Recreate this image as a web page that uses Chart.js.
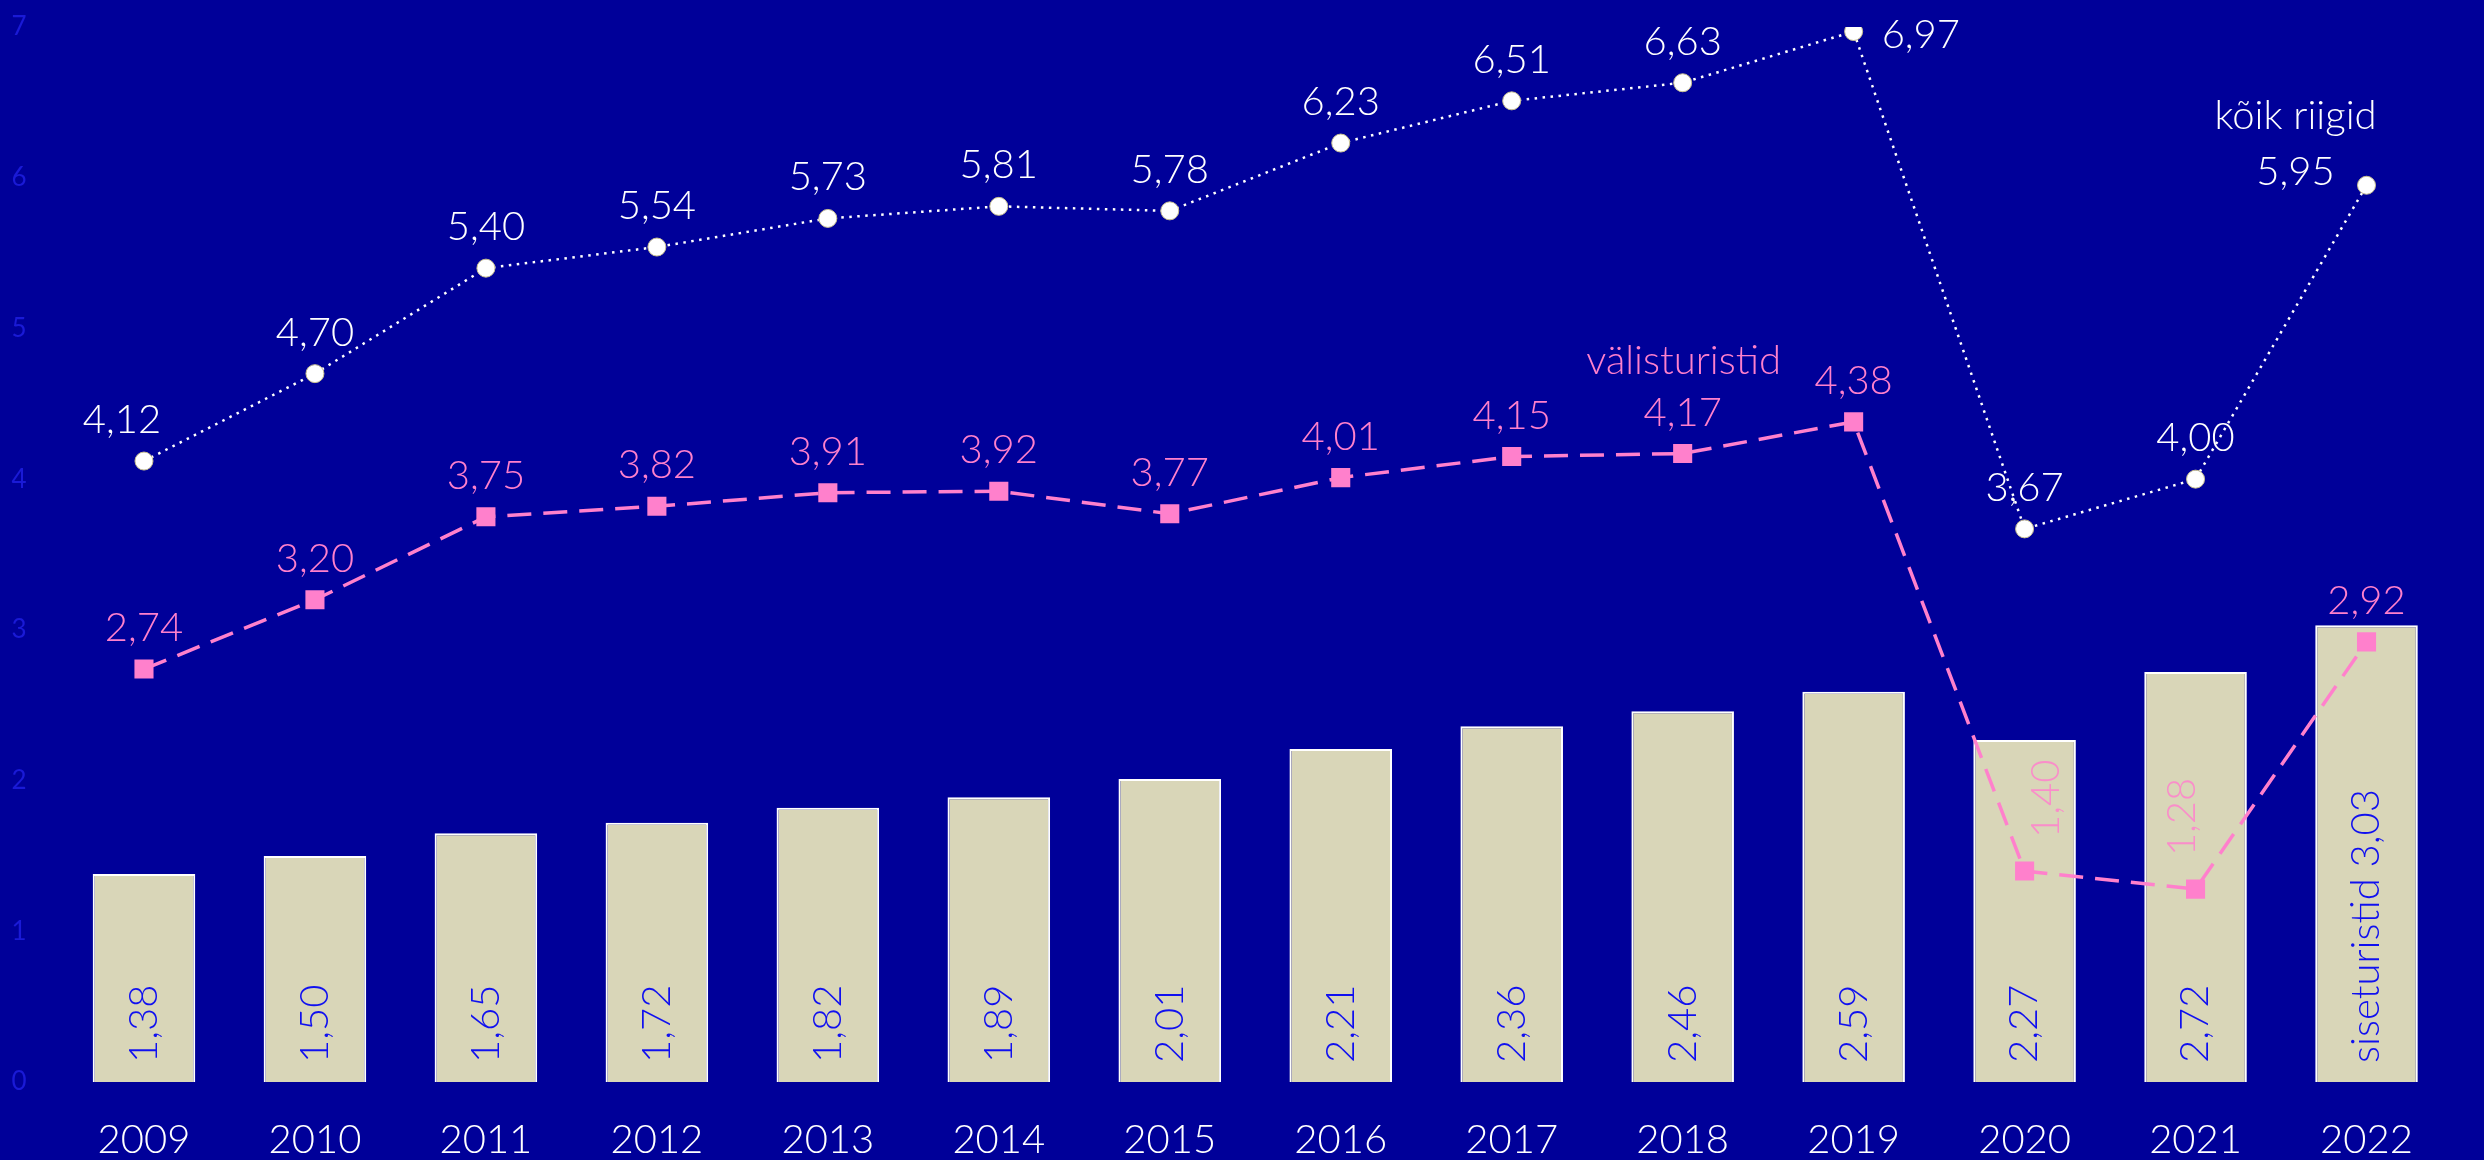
<!DOCTYPE html>
<html>
<head>
<meta charset="utf-8">
<script src="https://cdn.jsdelivr.net/npm/chart.js@4"></script>
<style>
  html, body { margin: 0; padding: 0; background: #000099; }
  #wrap { width: 2484px; height: 1160px; }
</style>
</head>
<body>
<div id="wrap"><canvas id="chart"></canvas></div>
<script>
const years = ['2009', '2010', '2011', '2012', '2013', '2014', '2015', '2016', '2017', '2018', '2019', '2020', '2021', '2022'];
const koikRiigid = [4.12, 4.70, 5.40, 5.54, 5.73, 5.81, 5.78, 6.23, 6.51, 6.63, 6.97, 3.67, 4.00, 5.95];
const valisturistid = [2.74, 3.20, 3.75, 3.82, 3.91, 3.92, 3.77, 4.01, 4.15, 4.17, 4.38, 1.40, 1.28, 2.92];
const siseturistid = [1.38, 1.50, 1.65, 1.72, 1.82, 1.89, 2.01, 2.21, 2.36, 2.46, 2.59, 2.27, 2.72, 3.03];

const FONT = 'Lato, "Noto Sans", sans-serif';
const WHITE = '#ffffff';
const PINK = '#ff80cc';
const BLUE = '#1010f0';

const fmt = v => v.toFixed(2).replace('.', ',');

// value labels, series names
const labelPlugin = {
  id: 'valueLabels',
  afterDatasetsDraw(chart) {
    const ctx = chart.ctx;
    const last = years.length - 1;
    ctx.save();
    ctx.font = '300 40px ' + FONT;

    // bar labels, rotated, from the bottom
    chart.getDatasetMeta(0).data.forEach((bar, i) => {
      ctx.save();
      ctx.translate(bar.x, bar.base - 19);
      ctx.rotate(-Math.PI / 2);
      ctx.textAlign = 'left';
      ctx.textBaseline = 'middle';
      ctx.fillStyle = BLUE;
      ctx.fillText((i === last ? 'siseturistid ' : '') + fmt(siseturistid[i]), 0, 0);
      ctx.restore();
    });

    // pink line labels
    chart.getDatasetMeta(1).data.forEach((pt, i) => {
      ctx.fillStyle = PINK;
      if (i === 11 || i === 12) {
        ctx.save();
        ctx.translate(pt.x + (i === 11 ? 22 : -13), pt.y - 33);
        ctx.rotate(-Math.PI / 2);
        ctx.textAlign = 'left';
        ctx.textBaseline = 'middle';
        ctx.globalAlpha = 0.85;
        ctx.fillText(fmt(valisturistid[i]), 0, 0);
        ctx.restore();
        return;
      }
      ctx.textAlign = 'center';
      ctx.textBaseline = 'alphabetic';
      ctx.fillText(fmt(valisturistid[i]), pt.x, pt.y - 28);
    });

    // white line labels
    chart.getDatasetMeta(2).data.forEach((pt, i) => {
      ctx.fillStyle = WHITE;
      ctx.textBaseline = 'alphabetic';
      ctx.textAlign = 'center';
      let x = pt.x, y = pt.y - 28;
      if (i === 0) x -= 22;
      if (i === 10) { ctx.textAlign = 'left'; x += 28; y = pt.y + 16; }
      if (i === last) { x -= 71; y = pt.y; }
      ctx.fillText(fmt(koikRiigid[i]), x, y);
    });

    // series names
    const w = chart.getDatasetMeta(2).data[last];
    ctx.fillStyle = WHITE;
    ctx.textAlign = 'center';
    ctx.fillText('kõik riigid', w.x - 71, w.y - 56);

    const p = chart.getDatasetMeta(1).data[10];
    ctx.fillStyle = PINK;
    ctx.fillText('välisturistid', p.x - 170, p.y - 48);

    ctx.restore();
  }
};

new Chart(document.getElementById('chart'), {
  data: {
    labels: years,
    datasets: [
      {
        type: 'bar',
        label: 'siseturistid',
        data: siseturistid,
        backgroundColor: '#d9d6b8',
        borderColor: '#ffffff',
        borderWidth: 2,
        barPercentage: 0.6,
        categoryPercentage: 1,
        order: 3
      },
      {
        type: 'line',
        label: 'välisturistid',
        data: valisturistid,
        borderColor: PINK,
        borderWidth: 3.5,
        borderDash: [24, 12],
        pointStyle: 'rect',
        pointRadius: 13.5,
        pointBackgroundColor: PINK,
        pointBorderWidth: 0,
        tension: 0,
        order: 2
      },
      {
        type: 'line',
        label: 'kõik riigid',
        data: koikRiigid,
        borderColor: WHITE,
        borderWidth: 2.5,
        borderDash: [2.5, 5.5],
        pointStyle: 'circle',
        pointRadius: 9,
        pointBackgroundColor: WHITE,
        pointBorderColor: '#c8c090',
        pointBorderWidth: 1,
        tension: 0,
        order: 1
      }
    ]
  },
  options: {
    responsive: true,
    maintainAspectRatio: false,
    animation: false,
    layout: { padding: { top: 27, right: 32, left: 0, bottom: 0 } },
    plugins: {
      legend: { display: false },
      tooltip: { enabled: false }
    },
    scales: {
      x: {
        grid: { display: false },
        border: { display: false },
        ticks: { color: WHITE, font: { family: FONT, size: 40, weight: 300 }, padding: 26 },
        afterFit: s => { s.height = 78; }
      },
      y: {
        min: 0,
        max: 7,
        grid: { display: false },
        border: { display: false },
        ticks: { stepSize: 1, color: '#1a1ad6', font: { family: FONT, size: 26 }, padding: 24 },
        afterFit: s => { s.width = 58.5; s.paddingTop = 0; s.paddingBottom = 0; }
      }
    }
  },
  plugins: [labelPlugin]
});
</script>
</body>
</html>
